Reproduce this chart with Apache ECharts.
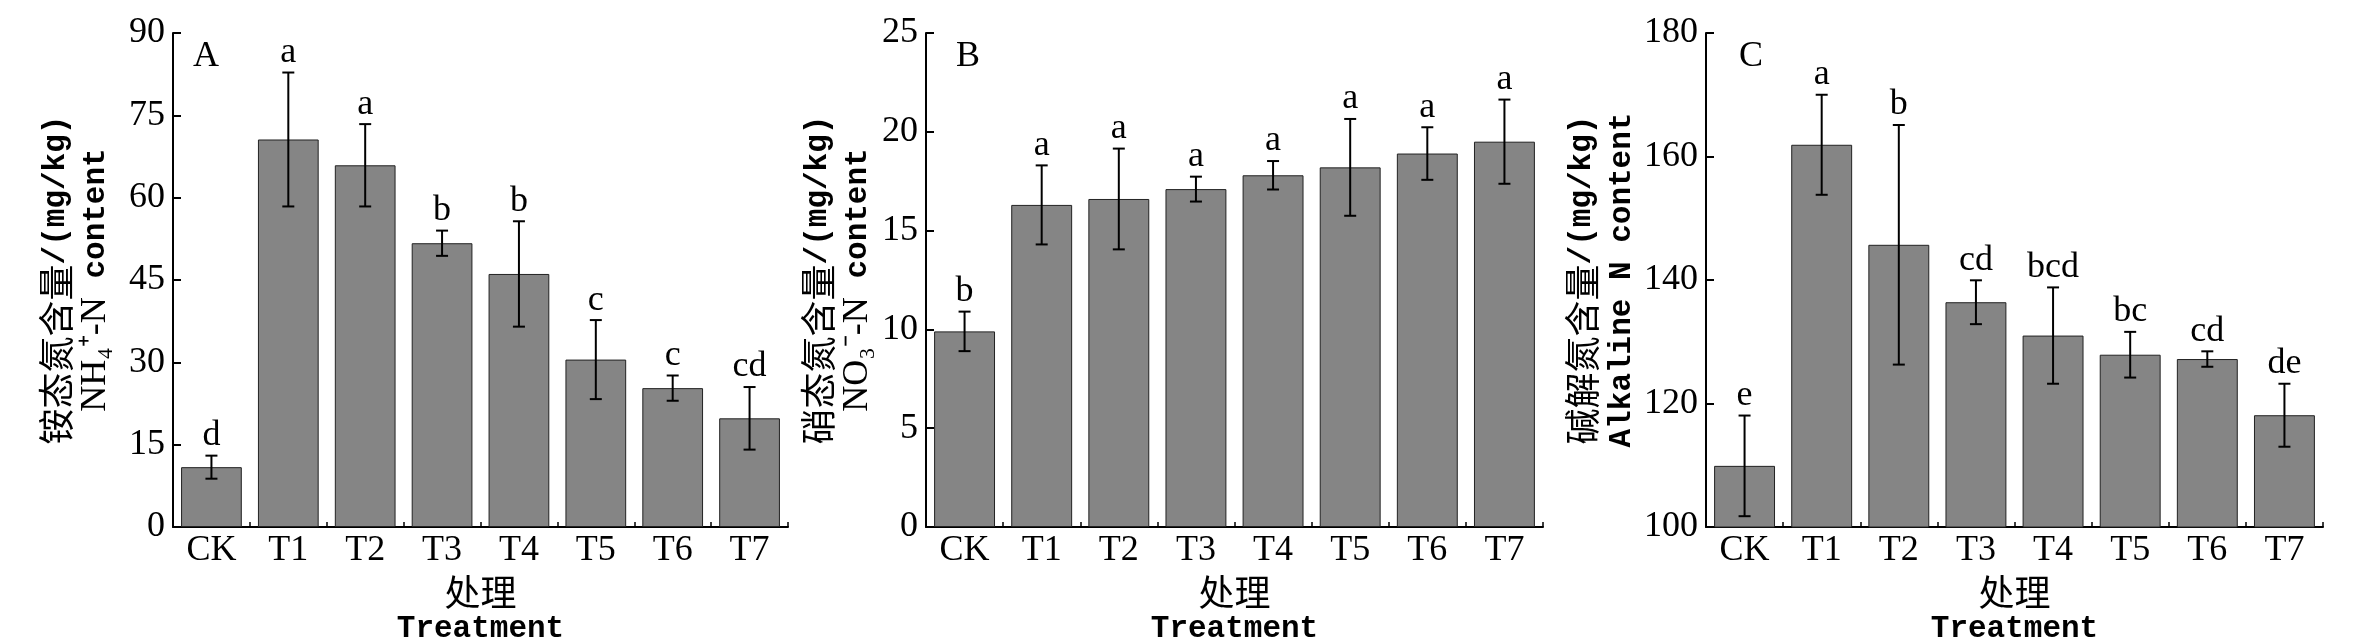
<!DOCTYPE html>
<html>
<head>
<meta charset="utf-8">
<script src="https://cdn.jsdelivr.net/npm/echarts@6/dist/echarts.min.js"></script>
<style>
  html, body { margin: 0; padding: 0; background: #fff; }
  #chart { width: 2362px; height: 643px; }
</style>
</head>
<body>
<div id="chart"></div>
<script>
// treatments
const categories = ['CK', 'T1', 'T2', 'T3', 'T4', 'T5', 'T6', 'T7'];

// A: NH4+-N (mg/kg)
const nh4Mean = [10.9, 70.6, 65.9, 51.7, 46.1, 30.5, 25.3, 19.8];
const nh4Err = [2.1, 12.2, 7.5, 2.3, 9.6, 7.2, 2.3, 5.7];
const nh4Letters = ['d', 'a', 'a', 'b', 'b', 'c', 'c', 'cd'];

// B: NO3--N (mg/kg)
const no3Mean = [9.9, 16.3, 16.6, 17.1, 17.8, 18.2, 18.9, 19.5];
const no3Err = [1.0, 2.0, 2.55, 0.63, 0.72, 2.45, 1.33, 2.13];
const no3Letters = ['b', 'a', 'a', 'a', 'a', 'a', 'a', 'a'];

// C: alkaline hydrolysable N (mg/kg)
const alkMean = [109.9, 161.9, 145.7, 136.4, 131.0, 127.9, 127.2, 118.1];
const alkErr = [8.15, 8.1, 19.4, 3.55, 7.8, 3.7, 1.25, 5.1];
const alkLetters = ['e', 'a', 'b', 'cd', 'bcd', 'bc', 'cd', 'de'];

const serif = 'Liberation Serif';
const mono = 'Liberation Mono';
const cjk = 'Noto Sans CJK SC';

const panels = [
  { left: 173, width: 615, min: 0, max: 90, interval: 15, gap: 57, letter: 'A', letterLeft: 188,
    name: '{c|铵态氮含量}{m|/(mg/kg)}\n{s|NH₄⁺-N}{m| content}', mean: nh4Mean, err: nh4Err, letters: nh4Letters },
  { left: 926, width: 617, min: 0, max: 25, interval: 5, gap: 48, letter: 'B', letterLeft: 951,
    name: '{c|硝态氮含量}{m|/(mg/kg)}\n{s|NO₃⁻-N}{m| content}', mean: no3Mean, err: no3Err, letters: no3Letters },
  { left: 1706, width: 617, min: 100, max: 180, interval: 20, gap: 64, letter: 'C', letterLeft: 1734,
    name: '{c|碱解氮含量}{m|/(mg/kg)}\n{m|Alkaline N content}', mean: alkMean, err: alkErr, letters: alkLetters }
];

const nameRich = {
  c: { fontFamily: cjk, fontSize: 36, lineHeight: 40, color: '#000' },
  m: { fontFamily: mono, fontSize: 31, fontWeight: 'bold', lineHeight: 40, color: '#000' },
  s: { fontFamily: serif, fontSize: 36, lineHeight: 40, color: '#000' }
};

function errorSeries(idx, means, errs, letters) {
  return {
    type: 'custom',
    xAxisIndex: idx,
    yAxisIndex: idx,
    z: 10,
    data: means.map((m, i) => [i, m - errs[i], m + errs[i]]),
    renderItem(params, api) {
      const x = api.value(0);
      const lo = api.coord([x, api.value(1)]);
      const hi = api.coord([x, api.value(2)]);
      const half = 6;
      const st = { stroke: '#000', lineWidth: 2 };
      return {
        type: 'group',
        children: [
          { type: 'line', shape: { x1: lo[0], y1: lo[1], x2: hi[0], y2: hi[1] }, style: st },
          { type: 'line', shape: { x1: lo[0] - half, y1: lo[1], x2: lo[0] + half, y2: lo[1] }, style: st },
          { type: 'line', shape: { x1: hi[0] - half, y1: hi[1], x2: hi[0] + half, y2: hi[1] }, style: st },
          { type: 'text', style: {
              text: letters[params.dataIndex], x: hi[0], y: hi[1] - 2,
              align: 'center', verticalAlign: 'bottom',
              fontFamily: serif, fontSize: 36, fill: '#000' } }
        ]
      };
    }
  };
}

const chart = echarts.init(document.getElementById('chart'));
chart.setOption({
  backgroundColor: '#fff',
  animation: false,
  title: panels.map(p => ({
    text: p.letter, left: p.letterLeft, top: 34,
    textStyle: { fontFamily: serif, fontSize: 36, fontWeight: 'normal', color: '#000' }
  })),
  grid: panels.map(p => ({
    left: p.left, width: p.width, top: 33, height: 494,
    containLabel: false, outerBoundsMode: 'none'
  })),
  xAxis: panels.map((p, i) => ({
    type: 'category',
    gridIndex: i,
    data: categories,
    name: '{c|处理}\n{m|Treatment}',
    nameLocation: 'middle',
    nameGap: 40,
    nameTextStyle: { rich: {
      c: { fontFamily: cjk, fontSize: 36, lineHeight: 37, color: '#000' },
      m: { fontFamily: mono, fontSize: 31, fontWeight: 'bold', lineHeight: 37, color: '#000' }
    } },
    axisLine: { show: true, lineStyle: { color: '#000', width: 2 } },
    axisTick: { show: true, inside: true, length: 5, lineStyle: { color: '#000', width: 1.5 } },
    axisLabel: { color: '#000', fontFamily: serif, fontSize: 36, margin: 6 },
    splitLine: { show: false }
  })),
  yAxis: panels.map((p, i) => ({
    type: 'value',
    gridIndex: i,
    min: p.min, max: p.max, interval: p.interval,
    name: p.name,
    nameLocation: 'middle',
    nameRotate: 90,
    nameGap: p.gap,
    nameTextStyle: { rich: nameRich },
    axisLine: { show: true, lineStyle: { color: '#000', width: 2 } },
    axisTick: { show: true, inside: true, length: 8, lineStyle: { color: '#000', width: 2 } },
    axisLabel: { color: '#000', fontFamily: serif, fontSize: 36, margin: 8 },
    splitLine: { show: false }
  })),
  series: panels.flatMap((p, i) => [
    {
      type: 'bar',
      xAxisIndex: i,
      yAxisIndex: i,
      data: p.mean,
      barCategoryGap: '21%',
      clip: true,
      itemStyle: { color: '#858585', borderColor: '#222', borderWidth: 1 }
    },
    errorSeries(i, p.mean, p.err, p.letters)
  ])
});
</script>
</body>
</html>
